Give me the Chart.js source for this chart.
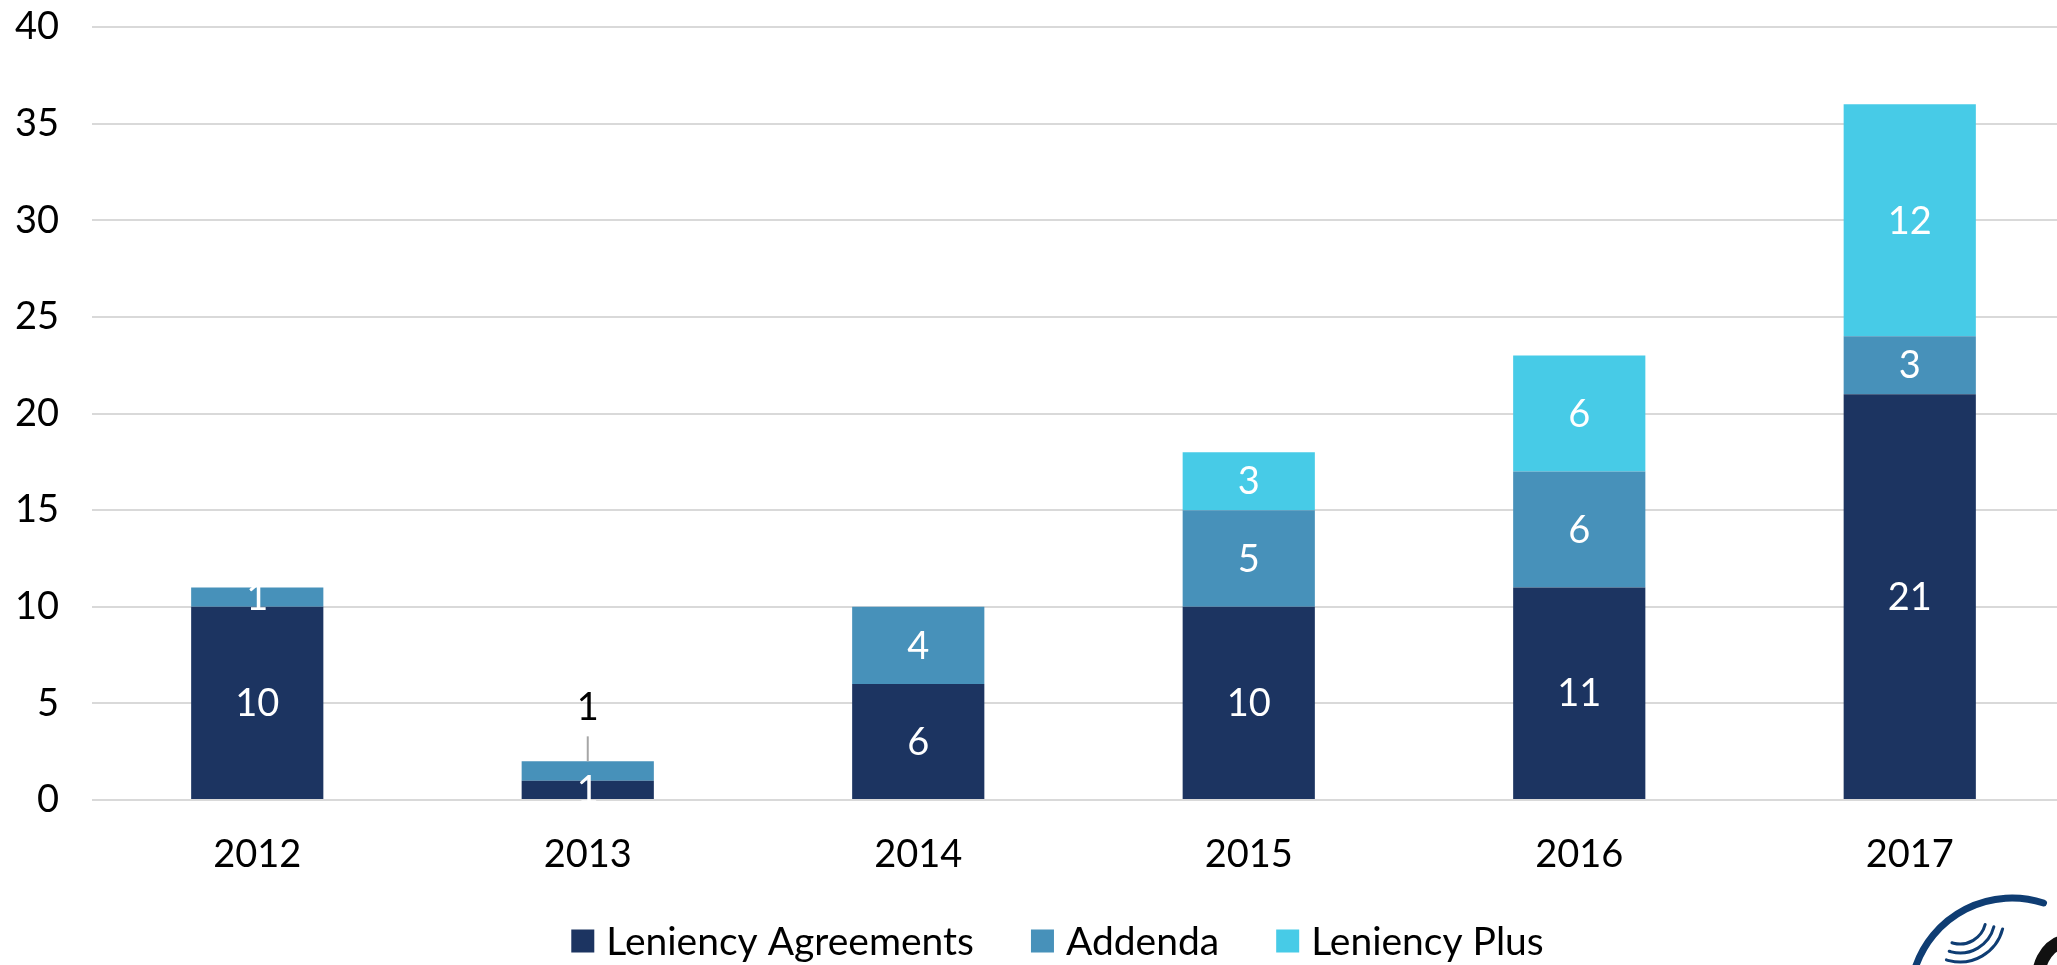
<!DOCTYPE html>
<html>
<head>
<meta charset="utf-8">
<script src="https://cdn.jsdelivr.net/npm/chart.js@4"></script>
<style>
    html, body { margin: 0; padding: 0; background: #fff; overflow: hidden; }
    #wrap { position: relative; width: 2075px; height: 965px; }
</style>
</head>
<body>
<div id="wrap"><canvas id="chart"></canvas></div>
<script>
// data
const years = ['2012', '2013', '2014', '2015', '2016', '2017'];
const leniencyAgreements = [10, 1, 6, 10, 11, 21];
const addenda = [1, 1, 4, 5, 6, 3];
const leniencyPlus = [null, null, null, 3, 6, 12];
const seriesNames = ['Leniency Agreements', 'Addenda', 'Leniency Plus'];
const seriesColors = ['#1C3461', '#4791BA', '#47CBE7'];
const yMin = 0, yMax = 40, yStep = 5;
// labels drawn above the bar with a leader line: [dataset, index]
const calloutLabels = [[1, 1]];

const FONT = 'Lato, "Open Sans", sans-serif';

// value labels inside the segments
const barLabels = {
    id: 'barLabels',
    afterDatasetsDraw(chart) {
        const ctx = chart.ctx;
        ctx.save();
        ctx.font = '38px ' + FONT;
        ctx.textAlign = 'center';
        ctx.textBaseline = 'middle';
        chart.data.datasets.forEach((ds, di) => {
            const meta = chart.getDatasetMeta(di);
            meta.data.forEach((bar, i) => {
                const v = ds.data[i];
                if (v == null) return;
                const isCallout = calloutLabels.some(c => c[0] === di && c[1] === i);
                if (isCallout) {
                    ctx.strokeStyle = '#a6a6a6';
                    ctx.lineWidth = 2;
                    ctx.beginPath();
                    ctx.moveTo(bar.x, bar.y);
                    ctx.lineTo(bar.x, bar.y - 25);
                    ctx.stroke();
                    ctx.fillStyle = '#000';
                    ctx.fillText(String(v), bar.x, bar.y - 54);
                } else {
                    ctx.fillStyle = '#fff';
                    ctx.fillText(String(v), bar.x, (bar.y + bar.base) / 2 + 1);
                }
            });
        });
        ctx.restore();
    }
};

// legend at the bottom, centred a bit right of the canvas middle
const bottomLegend = {
    id: 'bottomLegend',
    afterDraw(chart) {
        const ctx = chart.ctx;
        const box = 23, gap = 12, spacing = 57;
        const y = 941;
        ctx.save();
        ctx.font = '39px ' + FONT;
        ctx.textBaseline = 'middle';
        const items = chart.data.datasets.map(ds => ({
            text: ds.label,
            color: ds.backgroundColor,
            w: ctx.measureText(ds.label).width
        }));
        let total = 0;
        items.forEach((it, k) => { total += box + gap + it.w + (k < items.length - 1 ? spacing : 0); });
        let x = chart.width / 2 + 20 - total / 2;
        items.forEach(it => {
            ctx.fillStyle = it.color;
            ctx.fillRect(x, y - box / 2, box, box);
            ctx.fillStyle = '#000';
            ctx.textAlign = 'left';
            ctx.fillText(it.text, x + box + gap, y + 1);
            x += box + gap + it.w + spacing;
        });
        ctx.restore();
    }
};

// cropped logo in the bottom-right corner
const cornerLogo = {
    id: 'cornerLogo',
    afterDraw(chart) {
        const ctx = chart.ctx;
        ctx.save();
        ctx.lineCap = 'round';
        ctx.strokeStyle = '#0f3d73';
        ctx.lineWidth = 7;
        ctx.beginPath();
        ctx.arc(2012, 1000, 102, Math.PI * 1.1, Math.PI * 1.6);
        ctx.stroke();
        ctx.lineWidth = 3;
        [26, 35, 44].forEach(r => {
            ctx.beginPath();
            ctx.arc(1960, 918, r, Math.PI * 0.08, Math.PI * 0.6);
            ctx.stroke();
        });
        ctx.strokeStyle = '#111';
        ctx.lineWidth = 13;
        ctx.lineCap = 'butt';
        ctx.beginPath();
        ctx.arc(2075, 975, 36, Math.PI * 0.9, Math.PI * 1.5);
        ctx.stroke();
        ctx.restore();
    }
};

const ctx = document.getElementById('chart').getContext('2d');
const data = [leniencyAgreements, addenda, leniencyPlus];

new Chart(ctx, {
    type: 'bar',
    data: {
        labels: years,
        datasets: data.map((d, k) => ({
            label: seriesNames[k],
            data: d,
            backgroundColor: seriesColors[k],
            borderWidth: 0,
            barPercentage: 0.4,
            categoryPercentage: 1
        }))
    },
    options: {
        responsive: true,
        maintainAspectRatio: false,
        animation: false,
        layout: { padding: { top: 27, bottom: 90, left: 0, right: 0 } },
        plugins: {
            legend: { display: false },
            tooltip: { enabled: false }
        },
        scales: {
            x: {
                stacked: true,
                grid: { display: false, drawTicks: false },
                border: { display: false },
                ticks: { color: '#000', padding: 32, font: { family: FONT, size: 38 } },
                afterFit(scale) { scale.height = 75; scale.paddingLeft = 0; scale.paddingRight = 0; }
            },
            y: {
                stacked: true,
                min: yMin,
                max: yMax,
                border: { display: false },
                grid: { color: '#d9d9d9', lineWidth: 2, drawTicks: false },
                ticks: { stepSize: yStep, color: '#000', padding: 33, font: { family: FONT, size: 38 } },
                afterFit(scale) { scale.width = 92; scale.paddingTop = 0; scale.paddingBottom = 0; }
            }
        }
    },
    plugins: [barLabels, bottomLegend, cornerLogo]
});
</script>
</body>
</html>
